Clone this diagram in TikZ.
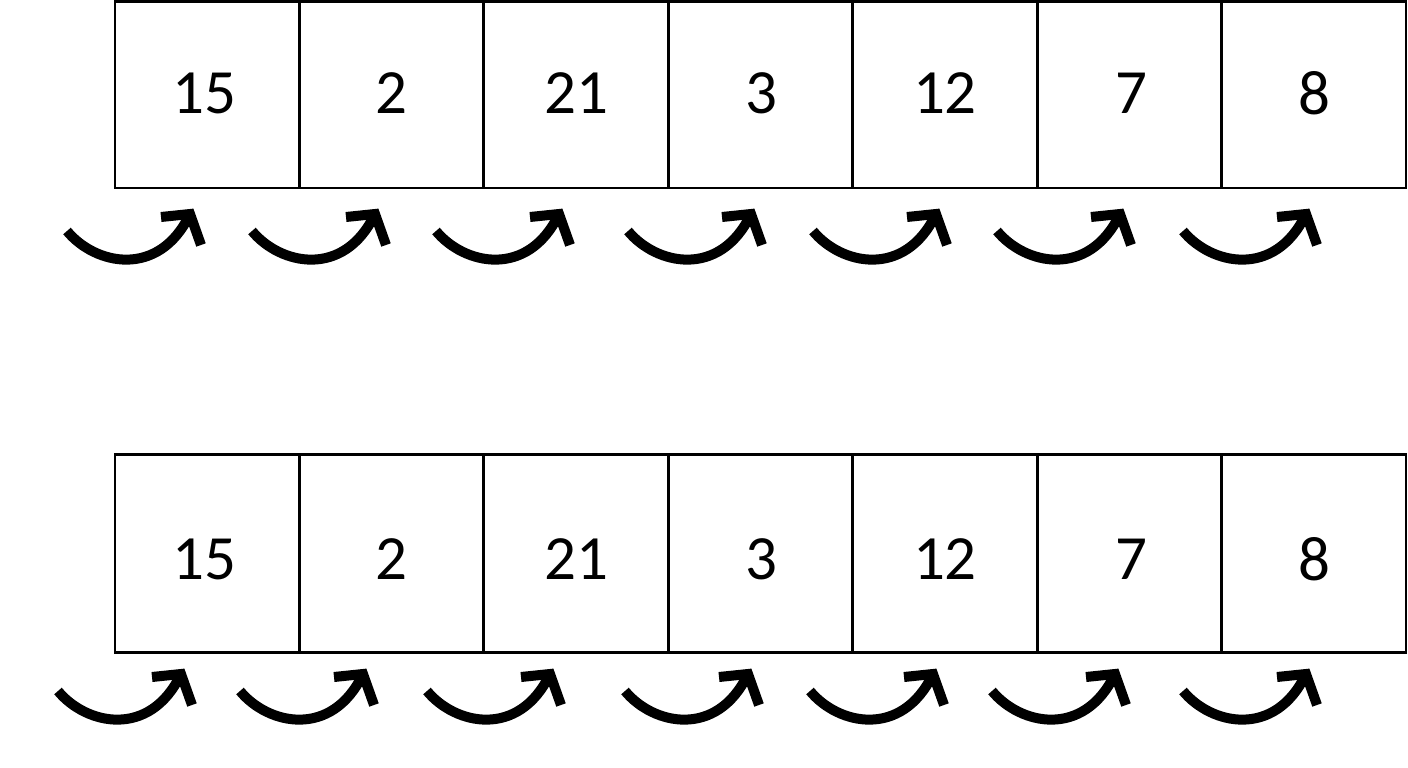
\documentclass[tikz,border=0pt]{standalone}
\usepackage{fontspec}
\setmainfont{Carlito}
\begin{document}
\begin{tikzpicture}[x=1pt,y=-1pt,
  cell/.style={draw=black,line width=2.8pt,minimum width=184.43pt,inner sep=0pt},
  toprow/.style={cell,minimum height=186.5pt},
  botrow/.style={cell,minimum height=198.4pt},
  num/.style={inner sep=0pt,font=\fontsize{63}{63}\selectfont},
  bend/.pic={
    \draw[line width=10pt] (0,0) .. controls (28,34) and (92,48) .. (123,-17);
    \draw[line width=10pt,line join=miter] (94,-14) -- (123,-17) -- (134,14);
  }]
\useasboundingbox (0,0) rectangle (1408,768);
\fill[white] (0,0) rectangle (1408,768);
\foreach \v/\dx [count=\i] in {15/-3,2/0,21/0,3/1,12/0,7/2,8/1} {
  \node[toprow] (t\i) at ({115+184.43*(\i-0.5)},94.75) {};
  \node[num] (tn\i) at ([xshift=\dx pt,yshift=1.5pt]t\i.center) {\v};
  \node[botrow] (b\i) at ({115+184.43*(\i-0.5)},553.5) {};
  \node[num] (bn\i) at ([xshift=\dx pt,yshift=-6pt]b\i.center) {\v};
}
\foreach \x [count=\i] in {67,252,436,628,813,997,1183}
  \pic (ta\i) at (\x,231) {bend};
\foreach \x [count=\i] in {58,240,427,625,810,992,1183}
  \pic (ba\i) at (\x,691) {bend};
\end{tikzpicture}
\end{document}
